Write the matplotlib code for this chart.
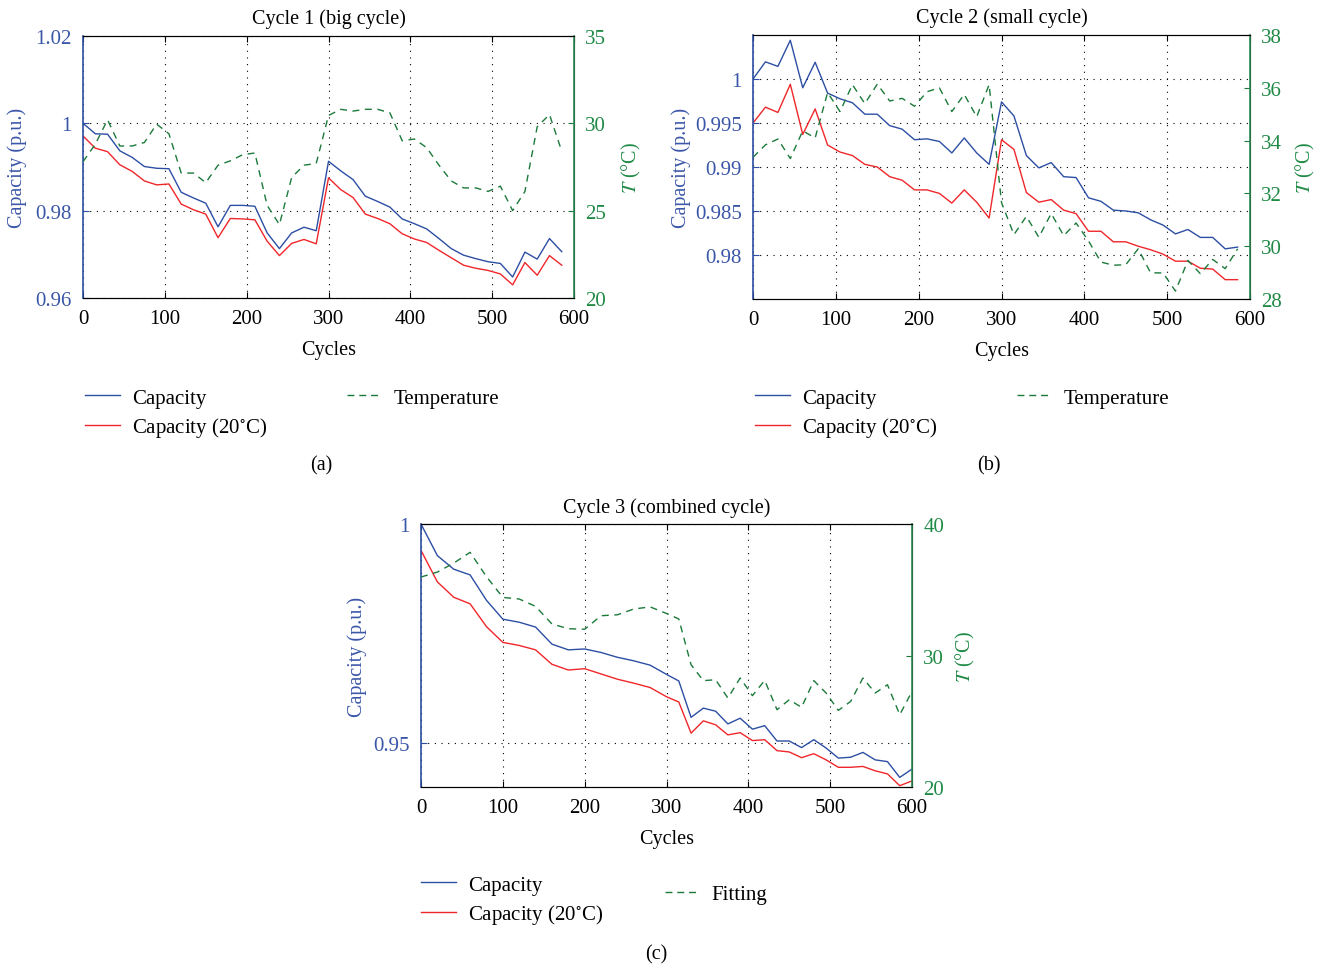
import numpy as np
import matplotlib
matplotlib.use('Agg')
import matplotlib.pyplot as plt
from matplotlib.lines import Line2D

plt.rcParams['font.family'] = ['Liberation Serif', 'DejaVu Serif']
plt.rcParams['mathtext.fontset'] = 'stix'

# cycle 1 (big cycle)
cyc_a = [0, 15, 30, 45, 60, 75, 90, 105, 120, 135, 150, 165, 180, 195, 210, 225, 240, 255, 270, 285,
         300, 315, 330, 345, 360, 375, 390, 405, 420, 435, 450, 465, 480, 495, 510, 525, 540, 555, 570, 585]
cap_a = [1.0000, 0.9976, 0.9975, 0.9937, 0.9922, 0.9901, 0.9897, 0.9896, 0.9842, 0.9829,
         0.9817, 0.9763, 0.9812, 0.9812, 0.9810, 0.9749, 0.9713, 0.9749, 0.9762, 0.9754,
         0.9913, 0.9891, 0.9871, 0.9833, 0.9821, 0.9808, 0.9781, 0.9770, 0.9758, 0.9736,
         0.9713, 0.9698, 0.9690, 0.9683, 0.9679, 0.9648, 0.9705, 0.9689, 0.9736, 0.9706]
cap20_a = [0.9971, 0.9943, 0.9935, 0.9905, 0.9890, 0.9868, 0.9859, 0.9861, 0.9815, 0.9802,
           0.9792, 0.9738, 0.9782, 0.9781, 0.9779, 0.9730, 0.9697, 0.9725, 0.9734, 0.9724,
           0.9875, 0.9848, 0.9830, 0.9792, 0.9782, 0.9770, 0.9747, 0.9735, 0.9727, 0.9709,
           0.9692, 0.9675, 0.9668, 0.9663, 0.9655, 0.9630, 0.9681, 0.9652, 0.9697, 0.9675]
temp_a = [27.8, 28.8, 30.2, 28.7, 28.7, 28.9, 29.95, 29.4, 27.15, 27.15,
          26.6, 27.6, 27.85, 28.2, 28.3, 25.3, 24.2, 26.9, 27.6, 27.7,
          30.45, 30.8, 30.7, 30.8, 30.8, 30.6, 29.0, 29.1, 28.6, 27.6,
          26.7, 26.3, 26.3, 26.1, 26.4, 25.0, 26.1, 29.8, 30.5, 28.4]

# cycle 2 (small cycle)
cyc_b = cyc_a
cap_b = [1.0000, 1.00195, 1.00143, 1.0044, 0.9990, 1.0019, 0.9984, 0.99775, 0.9973, 0.9960,
         0.9960, 0.9947, 0.9943, 0.9931, 0.9932, 0.9929, 0.9916, 0.9933, 0.9916, 0.9903,
         0.9974, 0.9958, 0.9913, 0.9899, 0.9905, 0.9889, 0.9888, 0.9865, 0.9861, 0.9851,
         0.9850, 0.9848, 0.9840, 0.9834, 0.9824, 0.9829, 0.9820, 0.9820, 0.9807, 0.9809]
cap20_b = [0.9950, 0.9968, 0.9962, 0.9994, 0.9937, 0.9966, 0.9925, 0.9917, 0.9913, 0.9903,
           0.9900, 0.9889, 0.9885, 0.9874, 0.9874, 0.9870, 0.9859, 0.9874, 0.9860, 0.9842,
           0.9931, 0.9920, 0.9871, 0.9860, 0.9863, 0.9851, 0.9847, 0.9827, 0.9827, 0.9815,
           0.9815, 0.9810, 0.9806, 0.9801, 0.9793, 0.9793, 0.9785, 0.9784, 0.9772, 0.9772]
temp_b = [33.37, 33.84, 34.06, 33.32, 34.37, 34.1, 35.82, 35.1, 36.12, 35.4,
          36.14, 35.5, 35.6, 35.3, 35.85, 36.0, 35.1, 35.75, 34.9, 36.12,
          31.65, 30.44, 31.13, 30.34, 31.24, 30.4, 30.88, 30.2, 29.4, 29.28,
          29.3, 29.9, 28.99, 28.99, 28.3, 29.46, 28.96, 29.5, 29.15, 29.9]

# cycle 3 (combined cycle)
cyc_c = [0, 20, 40, 60, 80, 100, 120, 140, 160, 180, 200, 220, 240, 260, 280, 300,
         315, 330, 345, 360, 375, 390, 405, 420, 435, 450, 465, 480, 495, 510, 525, 540, 555, 570, 585, 600]
cap_c = [1.0000, 0.9928, 0.9897, 0.9884, 0.9826, 0.9783, 0.9776, 0.9765, 0.9726, 0.9713,
         0.9715, 0.9707, 0.9696, 0.9688, 0.9678, 0.9657,
         0.9642, 0.9559, 0.9580, 0.9573, 0.9544, 0.9557, 0.9532, 0.9540, 0.9505, 0.9505,
         0.9490, 0.9508, 0.9489, 0.9466, 0.9468, 0.9479, 0.9462, 0.9458, 0.9422, 0.9441]
cap20_c = [0.9940, 0.9868, 0.9833, 0.9818, 0.9766, 0.9730, 0.9723, 0.9713, 0.9680, 0.9667,
           0.9670, 0.9658, 0.9646, 0.9637, 0.9627, 0.9606,
           0.9594, 0.9523, 0.9551, 0.9542, 0.9519, 0.9524, 0.9506, 0.9508, 0.9483, 0.9480,
           0.9467, 0.9476, 0.9462, 0.9445, 0.9445, 0.9447, 0.9437, 0.9430, 0.9403, 0.9414]
temp_c = [35.97, 36.35, 37.03, 37.85, 36.0, 34.42, 34.3, 33.74, 32.4, 32.04,
          32.0, 33.03, 33.1, 33.54, 33.7, 33.2,
          32.78, 29.3, 28.09, 28.16, 26.77, 28.29, 26.95, 28.11, 25.88, 26.64,
          26.06, 28.09, 27.15, 25.83, 26.51, 28.29, 27.15, 27.78, 25.5, 27.27]

BLUE = '#2c4ea3'
RED = '#f0262a'
GREEN = '#1b7a3a'
BLUE_TXT = '#3a56a8'
GREEN_TXT = '#1f8a45'
FS = 14.5

fig = plt.figure(figsize=(13.26, 9.7), dpi=100)


def panel(rect, x, cap, cap20, temp, title, ylim, yticks, yticklabels, tlim, tticks,
          ylab_x, tlab_x):
    ax = fig.add_axes(rect)
    ax.plot(x, cap, color=BLUE, lw=1.0)
    ax.plot(x, cap20, color=RED, lw=1.0)
    ax.set_xlim(0, 600)
    ax.set_ylim(*ylim)
    ax.set_xticks(range(0, 601, 100))
    ax.set_yticks(yticks)
    ax.set_yticklabels(yticklabels)
    ax.grid(True, color='black', linestyle=(0, (1, 5)), linewidth=0.8)
    ax.tick_params(direction='in', labelsize=15, length=4, top=True, pad=8)
    ax.tick_params(axis='y', colors=BLUE, labelcolor=BLUE_TXT)
    ax.spines['left'].set_color(BLUE)
    ax.spines['left'].set_linewidth(1.2)
    ax.set_title(title, fontsize=FS, pad=9)
    ax.set_xlabel('Cycles', fontsize=FS, labelpad=8.5)
    ax.set_ylabel('Capacity (p.u.)', fontsize=FS, color=BLUE_TXT)
    ax.yaxis.set_label_coords(ylab_x, 0.5)

    ax2 = ax.twinx()
    ax2.plot(x, temp, color=GREEN, lw=1.0, linestyle=(0, (5, 4)))
    ax2.set_ylim(*tlim)
    ax2.set_yticks(tticks)
    ax2.tick_params(direction='in', labelsize=15, length=4, pad=8, colors=GREEN, labelcolor=GREEN_TXT)
    ax2.spines['right'].set_color('#2e8b57')
    ax2.spines['right'].set_linewidth(1.2)
    ax2.spines['left'].set_visible(False)
    ax2.set_ylabel(r'$T$ (°C)', fontsize=FS, color=GREEN_TXT)
    ax2.yaxis.set_label_coords(tlab_x, 0.5)
    return ax, ax2


h_cap = Line2D([], [], color=BLUE, lw=1.0)
h_cap20 = Line2D([], [], color=RED, lw=1.0)
h_temp = Line2D([], [], color=GREEN, lw=1.0, linestyle=(0, (5, 3.5)))
leg_kw = dict(frameon=False, fontsize=15, handlelength=1.7, handletextpad=0.55,
              labelspacing=0.35, borderaxespad=0, borderpad=0)

# (a)
ax_a, _ = panel([0.0626, 0.6918, 0.3703, 0.2701], cyc_a, cap_a, cap20_a, temp_a,
                'Cycle 1 (big cycle)', (0.96, 1.02), [0.96, 0.98, 1.0, 1.02],
                ['0.96', '0.98', '1', '1.02'], (20, 35), [20, 25, 30, 35], -0.114, 1.094)
fig.legend([h_cap, h_cap20, h_temp], ['Capacity', r'Capacity (20$^{\circ}$C)', 'Temperature'],
           ncol=2, loc='upper left', bbox_to_anchor=(85 / 1326, 0.599), columnspacing=3.8, **leg_kw)
fig.text(321 / 1326, 1 - 466 / 970, '(a)', ha='center', va='center', fontsize=FS)

# (b)
ax_b, _ = panel([0.5679, 0.6907, 0.3748, 0.2722], cyc_b, cap_b, cap20_b, temp_b,
                'Cycle 2 (small cycle)', (0.975, 1.005), [0.98, 0.985, 0.99, 0.995, 1.0],
                ['0.98', '0.985', '0.99', '0.995', '1'], (28, 38), [28, 30, 32, 34, 36, 38],
                -0.125, 1.0885)
fig.legend([h_cap, h_cap20, h_temp], ['Capacity', r'Capacity (20$^{\circ}$C)', 'Temperature'],
           ncol=2, loc='upper left', bbox_to_anchor=(755 / 1326, 0.599), columnspacing=3.8, **leg_kw)
fig.text(989 / 1326, 1 - 466 / 970, '(b)', ha='center', va='center', fontsize=FS)

# (c)
ax_c, _ = panel([0.3175, 0.1876, 0.3703, 0.2711], cyc_c, cap_c, cap20_c, temp_c,
                'Cycle 3 (combined cycle)', (0.94, 1.0), [0.95, 1.0],
                ['0.95', '1'], (20, 40), [20, 30, 40], -0.110, 1.0855)
fig.legend([h_cap, h_cap20], ['Capacity', r'Capacity (20$^{\circ}$C)'],
           loc='upper left', bbox_to_anchor=(421 / 1326, 1 - 876 / 970), **leg_kw)
fig.legend([h_temp], ['Fitting'], loc='center left', bbox_to_anchor=(665 / 1326, 1 - 895 / 970), **leg_kw)
fig.text(656 / 1326, 1 - 955 / 970, '(c)', ha='center', va='center', fontsize=FS)

fig.savefig('out.png', dpi=100)
